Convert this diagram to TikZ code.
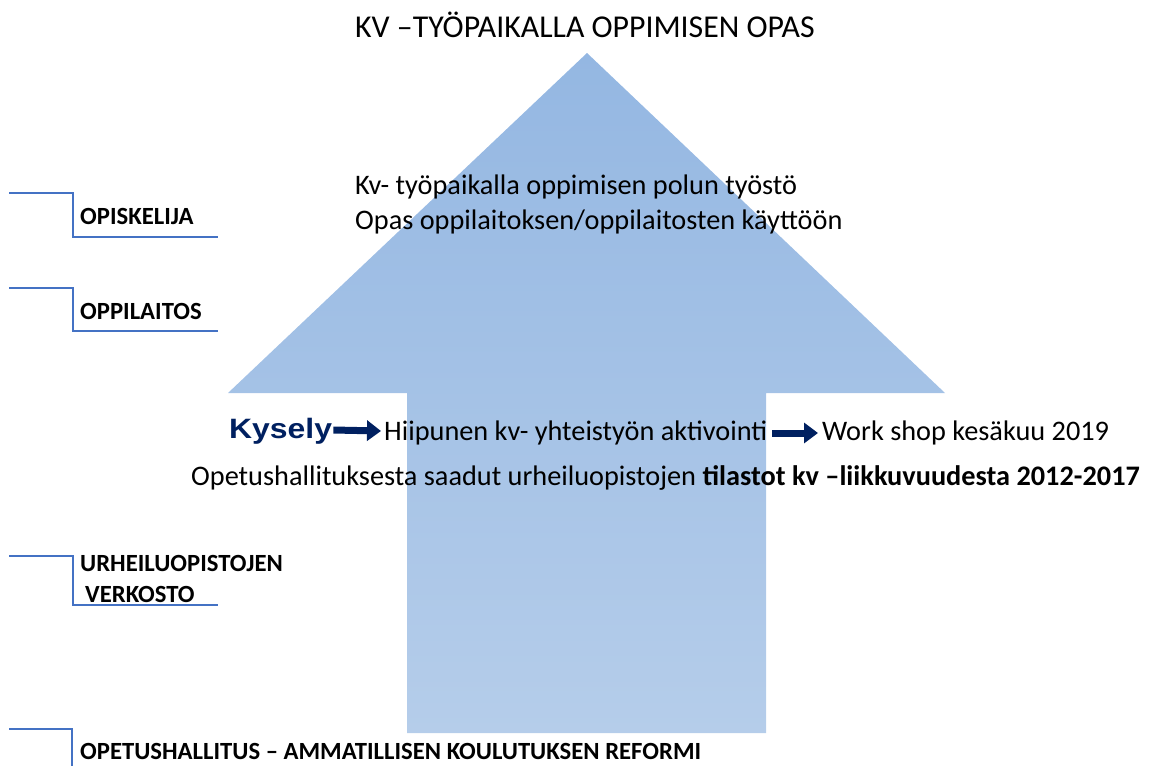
\documentclass[tikz,border=0pt]{standalone}
\usepackage{fontspec}
\setmainfont{Carlito}
\newfontfamily\arialfont{Liberation Sans}
\usetikzlibrary{calc,arrows.meta}
\definecolor{arrtop}{HTML}{94B7E2}
\definecolor{arrbot}{HTML}{B5CDEA}
\definecolor{navyblue}{HTML}{002060}
\definecolor{linecol}{HTML}{4472C4}
\begin{document}
\begin{tikzpicture}[x=1pt,y=-1pt,
  bracket/.style={draw=linecol, line width=1.3pt},
  lbl/.style={anchor=base west, inner sep=0pt, font=\bfseries\fontsize{24.7}{28}\selectfont},
  body/.style={anchor=base west, inner sep=0pt, font=\fontsize{28.3}{34}\selectfont},
  smallarrow/.style={draw=navyblue, line width=7pt, -{Triangle[length=14pt,width=20pt]}}
]
\useasboundingbox (0,0) rectangle (1157,766);
% big arrow
\shade[top color=arrtop, bottom color=arrbot]
  (587,53) -- (945,393) -- (766,393) -- (766,733) -- (407,733) -- (407,393) -- (228,393) -- cycle;

% title and texts
\node[anchor=base west, inner sep=0pt, font=\fontsize{31.8}{36}\selectfont] (title) at (355,37) {KV –TYÖPAIKALLA OPPIMISEN OPAS};
\node[body] (kv) at (355,194) {Kv- työpaikalla oppimisen polun työstö};
\node[body] (opas) at (355,229) {Opas oppilaitoksen/oppilaitosten käyttöön};

\node[anchor=base west, inner sep=0pt, text=navyblue, font=\arialfont\bfseries\fontsize{28}{32}\selectfont] (kysely) at (229,438) {\scalebox{1.14}[1]{Kysely}};
\node[body] (hiip) at (384,440) {Hiipunen kv- yhteistyön aktivointi};
\node[body] (work) at (822,440) {Work shop kesäkuu 2019};
\draw[smallarrow] ($(kysely.base east)+(1,-8)$) -- ($(hiip.base west)+(-3,-9)$);
\draw[smallarrow] ($(hiip.base east)+(5,-7)$) -- ($(work.base west)+(-4,-7)$);

\node[body] (stat) at (191,485) {Opetushallituksesta saadut urheiluopistojen \textbf{tilastot kv –liikkuvuudesta 2012-2017}};

% left labels
\draw[bracket] (9,193) -- (73,193) -- (73,237) -- (218,237);
\node[lbl] (opisk) at (80,224) {OPISKELIJA};
\draw[bracket] (9,288) -- (73,288) -- (73,331) -- (218,331);
\node[lbl] (oppil) at (80,319) {OPPILAITOS};
\draw[bracket] (9,556) -- (73,556) -- (73,605) -- (218,605);
\node[lbl] (urh) at (80,571) {URHEILUOPISTOJEN};
\node[lbl] (verk) at (85,602) {VERKOSTO};
\draw[bracket] (9,729) -- (72,729) -- (72,766);
\node[lbl] (oph) at (80,759) {OPETUSHALLITUS – AMMATILLISEN KOULUTUKSEN REFORMI};
\end{tikzpicture}
\end{document}
